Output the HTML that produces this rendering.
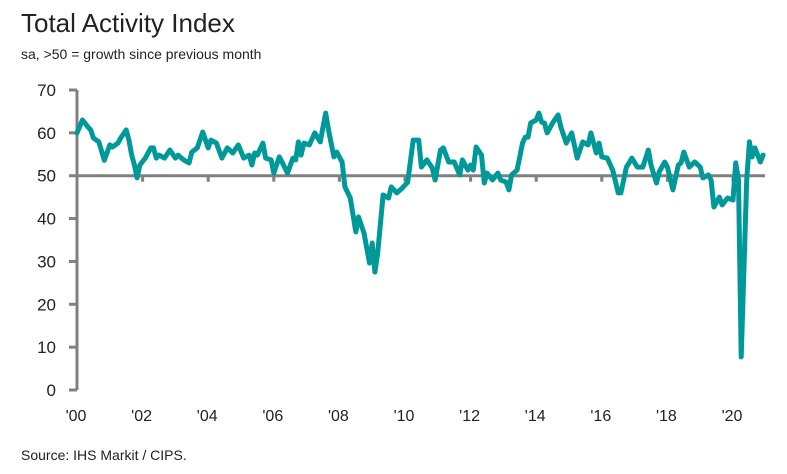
<!DOCTYPE html>
<html><head><meta charset="utf-8"><style>
body{margin:0;background:#fff;font-family:"Liberation Sans",sans-serif;}
#wrap{position:relative;width:787px;height:474px;overflow:hidden;}
</style></head><body>
<div id="wrap">
<svg id="chart" width="787" height="474">
<text x="21" y="32" font-size="26" fill="#222" font-family="Liberation Sans, sans-serif">Total Activity Index</text>
<text x="21" y="59" font-size="14" fill="#222" font-family="Liberation Sans, sans-serif">sa, &gt;50 = growth since previous month</text>
<text x="21" y="460" font-size="14" fill="#222" font-family="Liberation Sans, sans-serif">Source: IHS Markit / CIPS.</text>
<g id="axes"></g>
<g id="series"></g>
</svg>
</div>
<script>
const months = [0,2,4,5,6,8,10,12,13,15,16,18,19,20,21,22,23,25,27,28,29,30,32,34,36,37,39,41,42,44,46,48,49,51,53,55,57,59,61,63,64,65,66,68,69,71,72,74,75,77,79,80,81,82,83,85,87,89,90,91,92,94,95,97,98,100,102,103,105,107,108,109,110,112,114,115,117,119,121,123,125,126,128,130,131,133,134,136,138,140,141,143,144,145,146,148,149,150,152,154,155,157,158,159,161,163,164,165,166,168,169,170,171,172,174,176,177,179,181,183,185,187,188,190,191,192,194,196,198,199,201,202,203,205,207,209,210,212,213,215,216,218,220,221,222,224,226,228,229,231,232,233,235,236,238,240,241,242,243,245,246,247,248,250,251];
const values = [60,63,61.4,60.7,58.8,57.9,53.6,57.2,56.7,57.6,58.8,60.7,58.3,54.8,52.5,49.5,52.5,54.1,56.5,56.5,54.1,54.8,54.1,56,54.1,54.8,53.7,53,55.5,56.5,60.2,56.5,58.3,57.6,54.1,56.5,55.3,57.2,54.1,54.8,52.5,55.3,54.8,57.6,54.1,53.7,50.6,54.4,53.2,50.6,54.1,53.7,57.9,54.8,57.6,57.2,60,57.9,61.4,64.6,60.7,54.4,55.5,53.2,47.4,44.8,36.9,40.4,36.6,29.6,34.3,27.5,32,45.5,44.8,47.4,46,47.1,48.5,58.3,58.3,52,53.7,51.8,49,56,56.5,53.2,53.2,50.2,53.7,51.3,52.5,51.3,56.7,54.8,48.3,50.6,49,50.6,49,48.5,46.7,50.2,51.3,57.6,59,59,62.3,63,64.6,62.5,62.3,60,62.3,64.2,61.4,57.6,60,54.1,57.9,57.2,60,55.3,57.6,54.4,54.1,51.3,46,46,52,53,54.1,52,52,56,52.5,48.3,50.9,53.2,52,46.7,52.5,53,55.5,52,53.2,52,49.5,50.2,49,42.7,45,43.2,44.8,44.3,53,49,7.7,49,57.9,54.4,56.5,53.2,54.8];
const yTicks = [0,10,20,30,40,50,60,70];
const xTickLabels = ["'00","'02","'04","'06","'08","'10","'12","'14","'16","'18","'20"];
const xTickMonths = [0,24,48,72,96,120,144,168,192,216,240];

const NS="http://www.w3.org/2000/svg";
function yS(v){return 390 - v*(300/70);}
function xS(m){return 77 + m*(656/240);}
function mk(tag,attrs,parent){const e=document.createElementNS(NS,tag);for(const k in attrs)e.setAttribute(k,attrs[k]);parent.appendChild(e);return e;}
const axes=document.getElementById('axes');
const ser=document.getElementById('series');
const gray="#808080";
let ya=mk('line',{x1:77,x2:77,y1:yS(70),y2:yS(0),stroke:gray,'stroke-width':3},axes);


yTicks.forEach(t=>{
  const l=mk('line',{x1:69,x2:77,y1:yS(t),y2:yS(t),stroke:gray,'stroke-width':3},axes);
  
  
  const tx=mk('text',{x:56,y:yS(t)+6,'text-anchor':'end','font-size':17,fill:'#222','font-family':'Liberation Sans, sans-serif'},axes);
  tx.textContent=t;
  
  
});
let base=mk('line',{x1:77,x2:765,y1:yS(50),y2:yS(50),stroke:gray,'stroke-width':3},axes);


xTickMonths.forEach((m,i)=>{
  const l=mk('line',{x1:xS(m),x2:xS(m),y1:yS(50),y2:yS(50)+6,stroke:gray,'stroke-width':3},axes);
  
  
  const tx=mk('text',{x:xS(m)-1,y:421,'text-anchor':'middle','font-size':16,fill:'#222','font-family':'Liberation Sans, sans-serif'},axes);
  tx.textContent=xTickLabels[i];
  
  
});
const d=months.map((m,i)=>(i?'L':'M')+xS(m).toFixed(1)+' '+yS(values[i]).toFixed(1)).join(' ');
const p=mk('path',{d:d,fill:'none',stroke:'#00999a','stroke-width':5,'stroke-linejoin':'round','stroke-linecap':'round'},ser);


</script>
</body></html>
